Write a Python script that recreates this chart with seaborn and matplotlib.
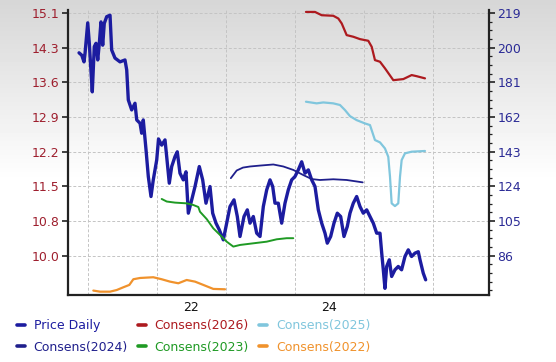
import numpy as np
import pandas as pd
import matplotlib
matplotlib.use("Agg")
import matplotlib.pyplot as plt
import seaborn as sns
from matplotlib.lines import Line2D
from matplotlib.ticker import FixedLocator, FixedFormatter, NullFormatter

# ---------------- data (x = fractional year) ----------------
price_year = [2020.870, 2020.909, 2020.942, 2020.957, 2020.996, 2021.019, 2021.039, 2021.062,
              2021.091, 2021.116, 2021.141, 2021.164, 2021.188, 2021.213, 2021.236, 2021.271,
              2021.319, 2021.343, 2021.391, 2021.464, 2021.536, 2021.561, 2021.584, 2021.633,
              2021.681, 2021.706, 2021.754, 2021.778, 2021.801, 2021.841, 2021.874, 2021.913,
              2021.946, 2021.996, 2022.022, 2022.068, 2022.116, 2022.141, 2022.178, 2022.213,
              2022.261, 2022.294, 2022.333, 2022.381, 2022.420, 2022.454, 2022.503, 2022.551,
              2022.613, 2022.662, 2022.710, 2022.768, 2022.807, 2022.855, 2022.903, 2022.961,
              2023.010, 2023.058, 2023.116, 2023.164, 2023.203, 2023.261, 2023.309, 2023.348,
              2023.396, 2023.445, 2023.493, 2023.541, 2023.590, 2023.638, 2023.677, 2023.710,
              2023.758, 2023.807, 2023.855, 2023.903, 2023.952, 2024.000, 2024.048, 2024.097,
              2024.145, 2024.193, 2024.242, 2024.290, 2024.338, 2024.387, 2024.435, 2024.468,
              2024.517, 2024.565, 2024.613, 2024.662, 2024.710, 2024.758, 2024.797, 2024.845,
              2024.894, 2024.942, 2024.990, 2025.039, 2025.087, 2025.135, 2025.184, 2025.232,
              2025.257, 2025.280, 2025.304, 2025.329, 2025.367, 2025.401, 2025.449, 2025.497,
              2025.545, 2025.594, 2025.642, 2025.690, 2025.739, 2025.787, 2025.812, 2025.859,
              2025.894]
price_val = [14.26, 14.21, 14.07, 14.25, 14.89, 14.46, 13.97, 13.44,
             14.39, 14.46, 14.11, 14.46, 14.91, 14.42, 14.88, 15.02,
             15.05, 14.32, 14.15, 14.07, 14.11, 13.90, 13.27, 13.06,
             13.20, 12.85, 12.78, 12.57, 12.85, 12.22, 11.66, 11.24,
             11.59, 12.01, 12.45, 12.32, 12.43, 12.07, 11.52, 11.87,
             12.08, 12.18, 11.73, 11.59, 11.76, 10.89, 11.17, 11.45,
             11.87, 11.59, 11.10, 11.45, 10.89, 10.68, 10.54, 10.33,
             10.68, 11.03, 11.17, 10.82, 10.40, 10.82, 10.96, 10.68,
             10.82, 10.47, 10.40, 11.03, 11.38, 11.59, 11.45, 11.10,
             11.10, 10.68, 11.10, 11.38, 11.59, 11.66, 11.80, 11.97,
             11.73, 11.80, 11.59, 11.45, 10.96, 10.68, 10.47, 10.26,
             10.40, 10.68, 10.89, 10.82, 10.40, 10.61, 10.89, 11.10,
             11.24, 11.03, 10.89, 10.96, 10.82, 10.68, 10.47, 10.47,
             10.05, 9.70, 9.31, 9.77, 9.91, 9.56, 9.70, 9.77,
             9.70, 9.98, 10.12, 9.98, 10.05, 10.08, 9.91, 9.63,
             9.49]

c2026_year = [2024.159, 2024.290, 2024.387, 2024.555, 2024.628, 2024.677, 2024.749, 2024.845,
              2024.942, 2025.062, 2025.112, 2025.159, 2025.232, 2025.304, 2025.425, 2025.570,
              2025.691, 2025.762, 2025.884]
c2026_val = [219.5, 219.5, 217.7, 217.4, 215.9, 213.2, 206.8, 205.9,
             204.6, 203.7, 200.4, 193.1, 192.2, 188.6, 182.1, 182.7,
             184.9, 184.3, 183.1]

c2025_year = [2024.159, 2024.314, 2024.410, 2024.555, 2024.652, 2024.725, 2024.797, 2024.894,
              2025.014, 2025.087, 2025.159, 2025.232, 2025.304, 2025.352, 2025.377, 2025.401,
              2025.449, 2025.497, 2025.522, 2025.546, 2025.594, 2025.691, 2025.884]
c2025_val = [170.3, 169.4, 169.9, 169.4, 168.5, 165.7, 162.4, 160.2,
             158.4, 157.5, 149.3, 148.0, 144.7, 140.1, 129.2, 114.6,
             113.1, 114.6, 129.2, 138.3, 142.0, 142.9, 143.3]

c2024_year = [2023.070, 2023.155, 2023.246, 2023.348, 2023.493, 2023.686, 2023.831, 2023.976,
              2024.121, 2024.243, 2024.362, 2024.555, 2024.749, 2024.981]
c2024_val = [128.4, 132.6, 134.2, 134.8, 135.3, 135.9, 134.8, 132.9,
             130.1, 127.9, 127.4, 127.8, 127.4, 126.1]

c2023_year = [2022.068, 2022.141, 2022.261, 2022.430, 2022.526, 2022.599, 2022.623, 2022.720,
              2022.816, 2022.913, 2023.010, 2023.106, 2023.203, 2023.396, 2023.590, 2023.735,
              2023.880, 2023.975]
c2023_val = [117.0, 115.6, 115.0, 114.6, 113.7, 112.6, 110.0, 106.0,
             100.9, 97.3, 93.6, 90.9, 91.8, 92.7, 93.6, 94.9,
             95.5, 95.5]

c2022_year = [2021.077, 2021.174, 2021.319, 2021.416, 2021.512, 2021.599, 2021.657, 2021.754,
              2021.946, 2022.068, 2022.188, 2022.309, 2022.430, 2022.551, 2022.671, 2022.816,
              2022.986]
c2022_val = [66.8, 66.2, 66.2, 67.1, 68.6, 69.9, 73.0, 73.7,
             74.1, 73.0, 71.7, 70.8, 72.6, 71.7, 69.9, 67.7,
             67.5]

left_tick_labels = ["10.0", "10.8", "11.5", "12.2", "12.9", "13.6", "14.3", "15.1"]
right_tick_labels = ["86", "105", "124", "143", "162", "181", "200", "219"]
x_tick_labels = ["22", "24"]
legend_labels = ["Price Daily", "Consens(2026)", "Consens(2025)",
                 "Consens(2024)", "Consens(2023)", "Consens(2022)"]

# ---------------- style ----------------
C_PRICE = "#1c1ca0"
C_2026 = "#ad1a1f"
C_2025 = "#80c6dd"
C_2024 = "#1f1f8c"
C_2023 = "#1f9a24"
C_2022 = "#f0922c"
LEFT_LBL = "#9e1f2e"
RIGHT_LBL = "#2b2b96"
FS = 9

sns.set_theme(style="white")
plt.rcParams['font.family'] = ['DejaVu Sans']

fig = plt.figure(figsize=(5.56, 3.62), dpi=100)
fig.patch.set_facecolor("white")

# gradient background
bg = fig.add_axes([0, 0, 1, 1], zorder=-10)
t = np.linspace(0, 1, 362)
g = np.clip(0.84 + t / 0.5 * 0.16, None, 1.0)
bg.imshow(np.tile(g[:, None], (1, 4)), aspect="auto", cmap="gray", vmin=0, vmax=1,
          extent=[0, 1, 0, 1], origin="upper")
bg.set_axis_off()

ax = fig.add_axes([0.1223, 0.185, 0.7572, 0.787])
ax.set_facecolor("none")

lv = [10.0 + k * 5.1 / 7 for k in range(8)]
rv = [86 + k * 19 for k in range(8)]
ylo, yhi = 9.17, 15.157
ax.set_ylim(ylo, yhi)
ax.set_xlim(2020.71, 2026.812)

ax2 = ax.twinx()
ax2.set_ylim(86 + (ylo - 10) * 19 / (5.1 / 7), 86 + (yhi - 10) * 19 / (5.1 / 7))
ax2.set_facecolor("none")

# grid
ax.yaxis.set_major_locator(FixedLocator(lv))
ax.yaxis.set_major_formatter(FixedFormatter(left_tick_labels))
ax.xaxis.set_major_locator(FixedLocator([2021, 2022, 2023, 2024, 2025, 2026]))
ax.xaxis.set_major_formatter(NullFormatter())
ax.xaxis.set_minor_locator(FixedLocator([2022.5, 2024.5]))
ax.xaxis.set_minor_formatter(FixedFormatter(x_tick_labels))
ax.grid(True, which="major", ls=(0, (3, 2)), color="#c4c4c4", lw=0.7)
ax.set_axisbelow(True)

# lines
sns.lineplot(x=price_year, y=price_val, ax=ax, color=C_PRICE, lw=2.4, estimator=None, sort=False)
sns.lineplot(x=c2026_year, y=c2026_val, ax=ax2, color=C_2026, lw=1.6, estimator=None, sort=False)
sns.lineplot(x=c2025_year, y=c2025_val, ax=ax2, color=C_2025, lw=1.6, estimator=None, sort=False)
sns.lineplot(x=c2024_year, y=c2024_val, ax=ax2, color=C_2024, lw=1.3, estimator=None, sort=False)
sns.lineplot(x=c2023_year, y=c2023_val, ax=ax2, color=C_2023, lw=1.4, estimator=None, sort=False)
sns.lineplot(x=c2022_year, y=c2022_val, ax=ax2, color=C_2022, lw=1.6, estimator=None, sort=False)

ax.set_xlabel("")
ax.set_ylabel("")
ax2.set_ylabel("")

# ticks
ax.tick_params(axis="y", which="major", direction="out", length=4, width=1.2, color="#222222",
               labelsize=FS, labelcolor=LEFT_LBL, pad=2, left=True)
ax.tick_params(axis="x", which="major", length=0)
ax.tick_params(axis="x", which="minor", length=0, labelsize=FS, labelcolor="#111111", pad=4)

ax2.yaxis.set_major_locator(FixedLocator(rv))
ax2.yaxis.set_major_formatter(FixedFormatter(right_tick_labels))
ax2.yaxis.set_minor_locator(FixedLocator(list(np.arange(86 - 4 * 4.75, 221, 4.75))))
ax2.tick_params(axis="y", which="major", direction="out", length=4, width=1.2, color="#222222",
                labelsize=FS, labelcolor=RIGHT_LBL, pad=2, right=True)
ax2.tick_params(axis="y", which="minor", direction="out", length=2.5, width=0.9, color="#222222",
                right=True)
ax2.grid(False)

for a in (ax, ax2):
    a.spines["top"].set_visible(False)
ax.spines["right"].set_visible(False)
ax2.spines["left"].set_visible(False)
ax2.spines["bottom"].set_visible(False)
for s in ("left", "bottom"):
    ax.spines[s].set_linewidth(1.6)
    ax.spines[s].set_color("#222222")
ax2.spines["right"].set_linewidth(1.6)
ax2.spines["right"].set_color("#222222")

# legend (column-major fill for 3 columns)
colors = [C_PRICE, C_2026, C_2025, C_2024, C_2023, C_2022]
order = [0, 3, 1, 4, 2, 5]
handles = [Line2D([0], [0], color=colors[i], lw=2.6) for i in order]
labels = [legend_labels[i] for i in order]
leg = fig.legend(handles, labels, ncol=3, loc="upper left", bbox_to_anchor=(0.03, 0.118),
                 frameon=False, handlelength=0.65, handletextpad=0.7, columnspacing=0.8,
                 fontsize=FS, labelspacing=0.68, borderaxespad=0, borderpad=0)
for txt, i in zip(leg.get_texts(), order):
    txt.set_color(colors[i])

fig.savefig("out.png", dpi=100, facecolor=fig.get_facecolor())
